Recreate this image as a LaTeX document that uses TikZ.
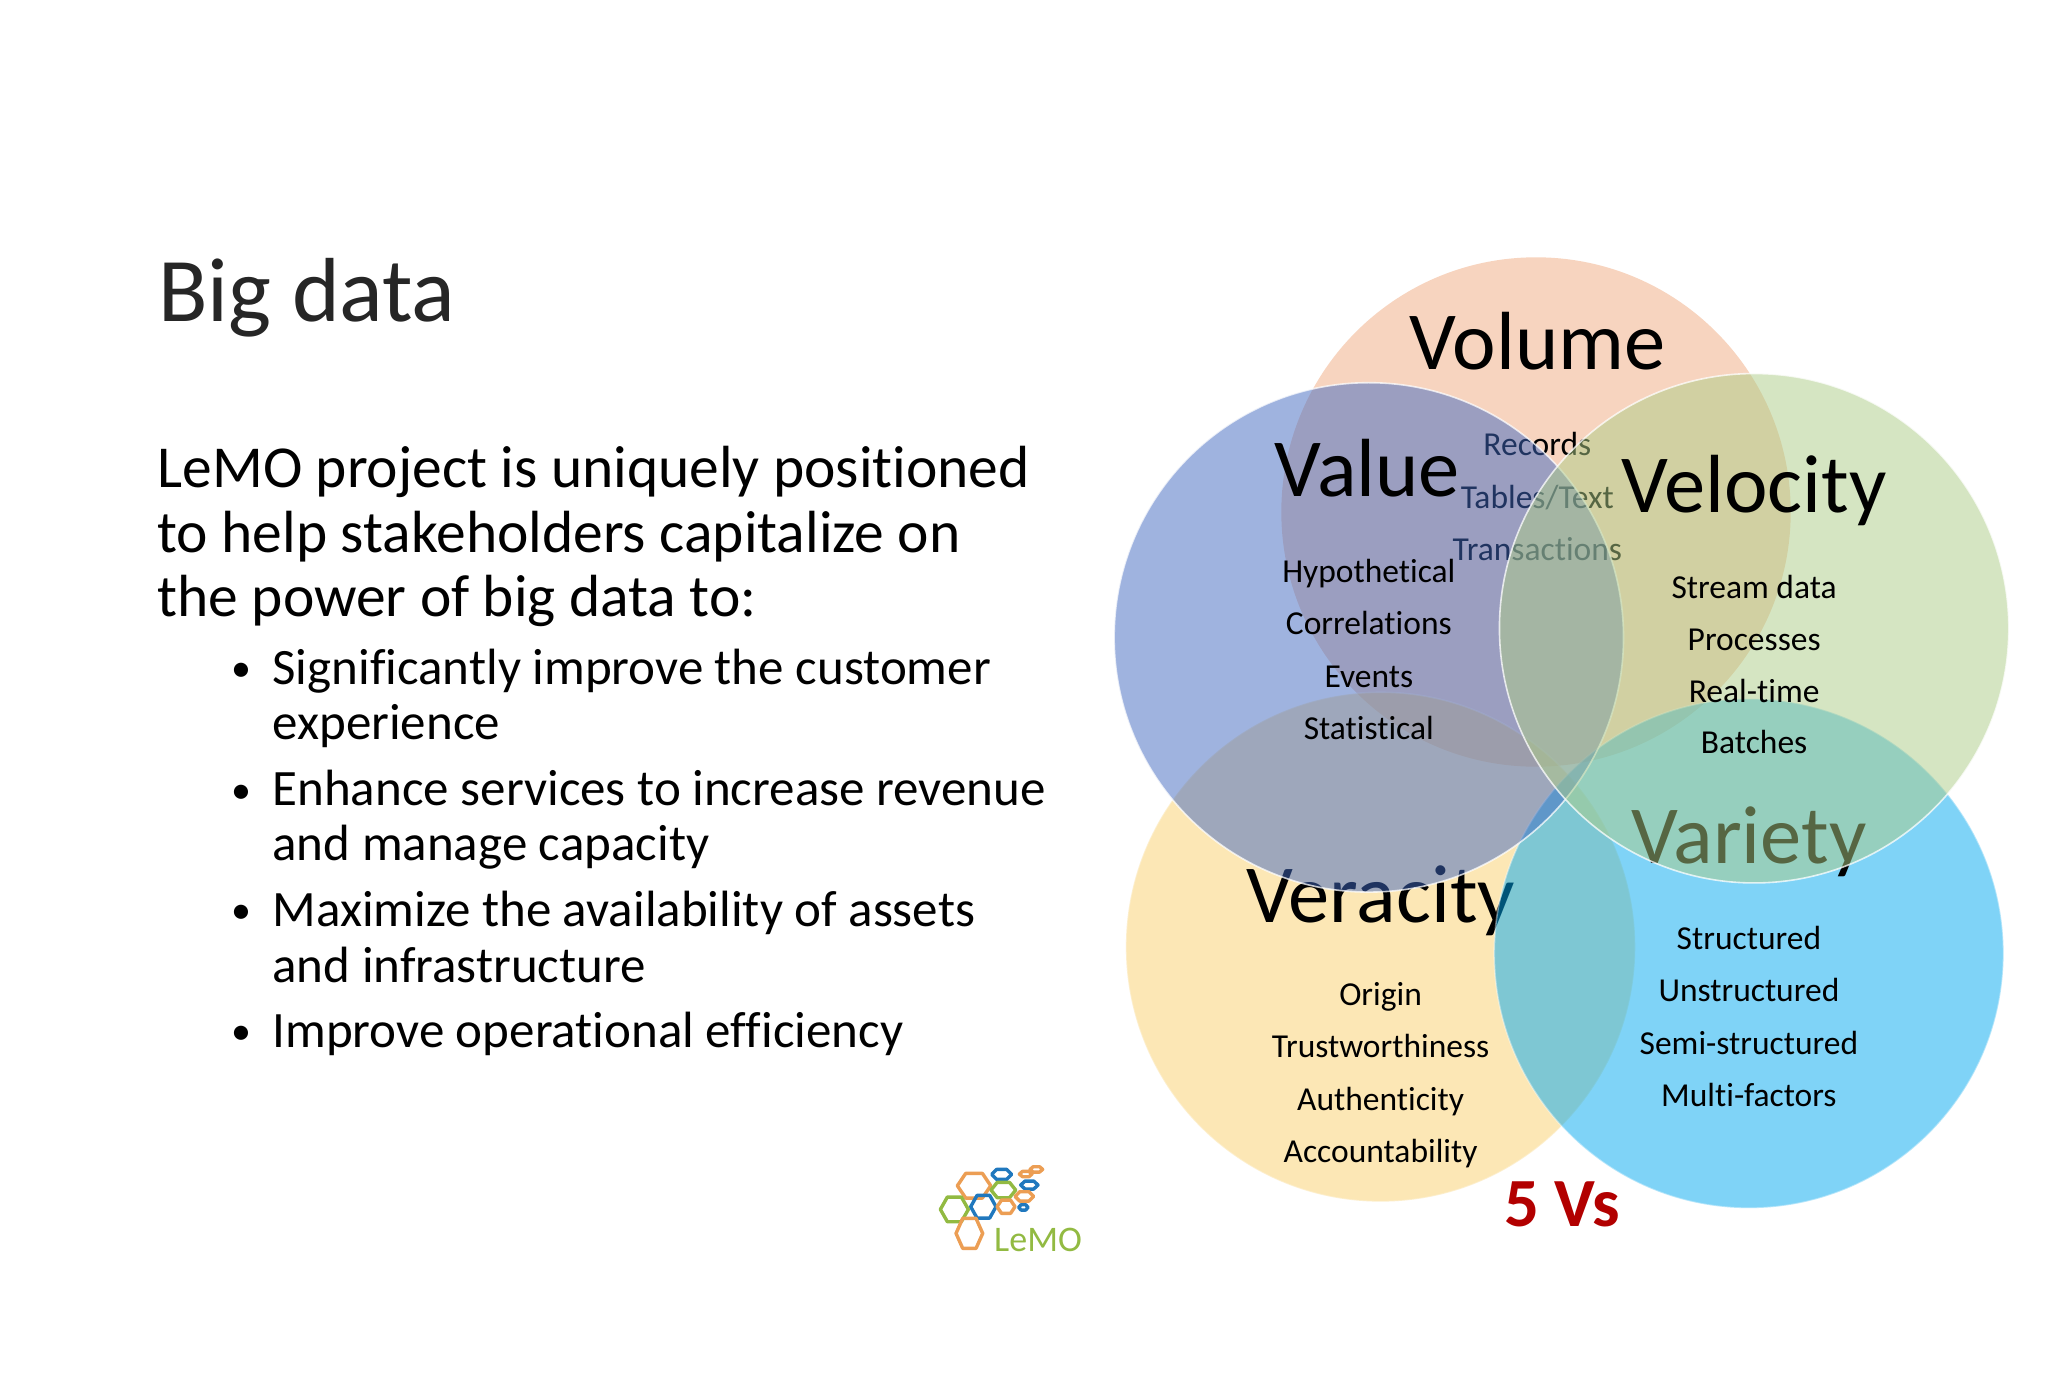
\documentclass[tikz,border=0pt]{standalone}
\usepackage{fontspec}
\setmainfont[Ligatures=NoCommon]{Carlito}
\definecolor{cvol}{RGB}{241,171,129}
\definecolor{cval}{RGB}{65,105,193}
\definecolor{cvel}{RGB}{173,205,135}
\definecolor{cver}{RGB}{251,209,109}
\definecolor{cvar}{RGB}{1,169,241}
\definecolor{lorange}{RGB}{236,158,84}
\definecolor{lblue}{RGB}{32,120,190}
\definecolor{lgreen}{RGB}{146,186,66}
\tikzset{
  disc/.style={fill=#1,fill opacity=0.5,draw=white,draw opacity=0.75,line width=1.6pt},
  head/.style={anchor=base,font=\fontsize{82.5}{82.5}\selectfont,text=black,inner sep=0pt},
  item/.style={anchor=base,font=\fontsize{33.5}{33.5}\selectfont,text=black,inner sep=0pt},
  body/.style={anchor=base west,font=\fontsize{59.5}{59.5}\selectfont,text=black,inner sep=0pt},
  bul/.style={anchor=base west,font=\fontsize{51}{51}\selectfont,text=black,inner sep=0pt},
  dot/.style={anchor=base,font=\fontsize{40}{40}\selectfont,text=black,inner sep=0pt},
  hexline/.style={draw=#1,line width=3.4pt,line join=round}
}
\newcommand{\hexa}[5]{\draw[hexline=#5] (#1-#3,#2) -- (#1-#3/2,#2-#4) -- (#1+#3/2,#2-#4) -- (#1+#3,#2) -- (#1+#3/2,#2+#4) -- (#1-#3/2,#2+#4) -- cycle;}
\begin{document}
\begin{tikzpicture}[x=1.3061pt,y=-1.3061pt]
\useasboundingbox[fill=white] (0,0) rectangle (1568,1069.6);
% Volume
\path[disc=cvol,draw opacity=0] (1176,392) circle[radius=195];
\node[head] (volt) at (1177,283) {Volume};
\node[item] (vol1) at (1177,349) {Records};
\node[item] (vol2) at (1177,389) {Tables/Text};
\node[item] (vol3) at (1177,429) {Transactions};
% Veracity
\path[disc=cver,draw opacity=0.3] (1057,725) circle[radius=195];
\node[head] (vert) at (1057,706) {Veracity};
\node[item] (ver1) at (1057,770) {Origin};
\node[item] (ver2) at (1057,810) {Trustworthiness};
\node[item] (ver3) at (1057,850) {Authenticity};
\node[item] (ver4) at (1057,890) {Accountability};
% Variety
\path[disc=cvar,draw opacity=0.4] (1339,730) circle[radius=195];
\node[head] (vart) at (1339,661) {Variety};
\node[item] (var1) at (1339,727) {Structured};
\node[item] (var2) at (1339,767) {Unstructured};
\node[item] (var3) at (1339,807) {Semi-structured};
\node[item] (var4) at (1339,847) {Multi-factors};
% Value
\path[disc=cval] (1048,488) circle[radius=195];
\node[head] (valt) at (1047,380) {Value};
\node[item] (val1) at (1048,446) {Hypothetical};
\node[item] (val2) at (1048,486) {Correlations};
\node[item] (val3) at (1048,526) {Events};
\node[item] (val4) at (1048,566) {Statistical};
% Velocity
\path[disc=cvel] (1343,481) circle[radius=195];
\node[head] (velt) at (1343,392) {Velocity};
\node[item] (vel1) at (1343,458) {Stream data};
\node[item] (vel2) at (1343,498) {Processes};
\node[item] (vel3) at (1343,538) {Real-time};
\node[item] (vel4) at (1343,577) {Batches};
% 5 Vs
\node[anchor=base,font=\bfseries\fontsize{69}{69}\selectfont,text=red!70!black,inner sep=0pt] (five) at (1196,939) {5 Vs};
% Left text
\node[anchor=base west,font=\fontsize{91}{91}\selectfont,text=black!85,inner sep=0pt] (title) at (121,246) {Big data};
\node[body] (b1) at (120.5,373) {LeMO project is uniquely positioned};
\node[body] (b2) at (120.5,423) {to help stakeholders capitalize on};
\node[body] (b3) at (120.5,472) {the power of big data to:};
\node[dot] (d1) at (185,522) {•};
\node[bul] (s1a) at (208.5,524) {Significantly improve the customer};
\node[bul] (s1b) at (208.5,566) {experience};
\node[dot] (d2) at (185,615) {•};
\node[bul] (s2a) at (208.5,617) {Enhance services to increase revenue};
\node[bul] (s2b) at (208.5,659) {and manage capacity};
\node[dot] (d3) at (185,707) {•};
\node[bul] (s3a) at (208.5,709) {Maximize the availability of assets};
\node[bul] (s3b) at (208.5,752) {and infrastructure};
\node[dot] (d4) at (185,800) {•};
\node[bul] (s4a) at (208.5,802) {Improve operational efficiency};
% Logo
\begin{scope}[shift={(704.4,880.5)},x=0.3333pt,y=-0.3333pt]
\hexa{162}{107}{50}{37}{lorange}
\hexa{245}{73}{30}{15}{lblue}
\hexa{317}{72}{19}{8}{lorange}
\hexa{349}{58}{19}{8}{lorange}
\hexa{328}{105}{26}{12}{lblue}
\hexa{250}{120}{37}{23}{lgreen}
\hexa{313}{139}{28}{14}{lorange}
\hexa{190}{170}{38}{34}{lblue}
\hexa{103}{178}{42}{37}{lgreen}
\hexa{258}{170}{27}{20}{lorange}
\hexa{310}{172}{14}{8}{lblue}
\hexa{148}{250}{40}{45}{lorange}
\node[anchor=base west,font=\fontsize{36}{36}\selectfont,text=lgreen,inner sep=0pt] (logo) at (222,303) {LeMO};
\end{scope}
\end{tikzpicture}
\end{document}
